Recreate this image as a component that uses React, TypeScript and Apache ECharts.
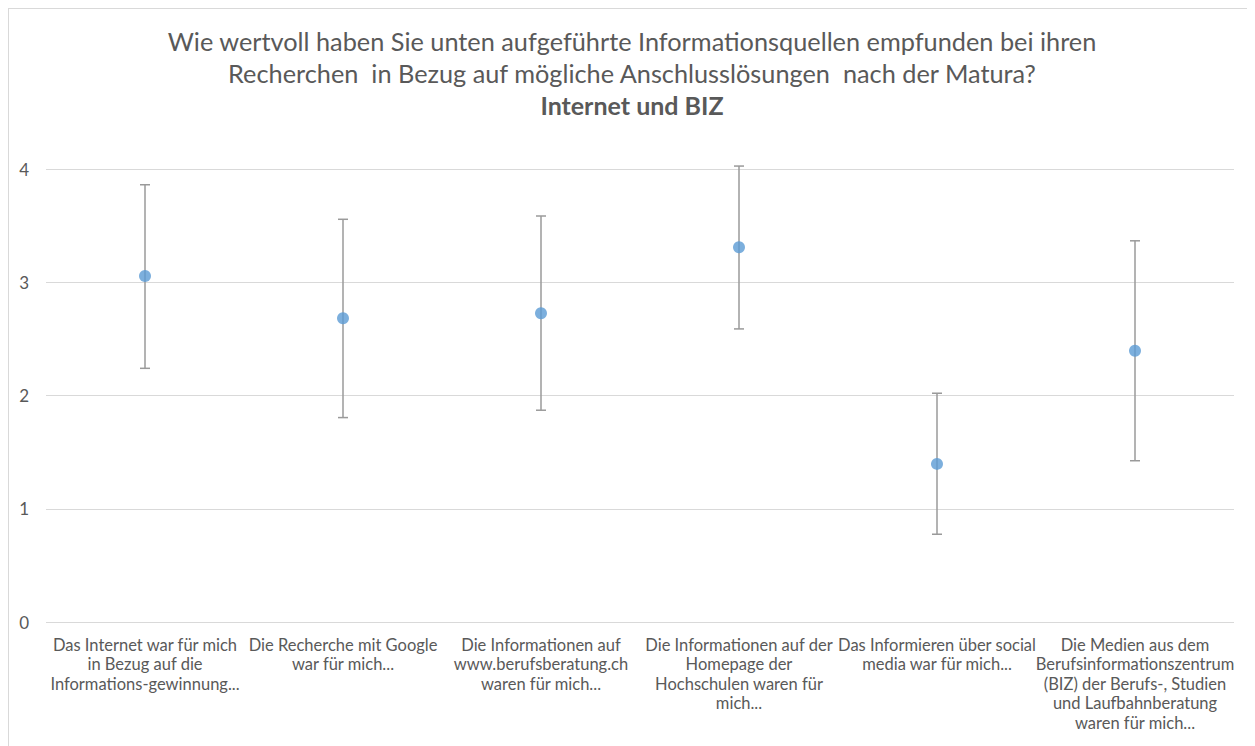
import React, { useEffect, useRef } from "react";
import * as echarts from "echarts";

const titleLines = [
  "Wie wertvoll haben Sie unten aufgeführte Informationsquellen empfunden bei ihren",
  "Recherchen  in Bezug auf mögliche Anschlusslösungen  nach der Matura?",
];
const subTitle = "Internet und BIZ";

const categories = [
  "Das Internet war für mich\nin Bezug auf die\nInformations-gewinnung...",
  "Die Recherche mit Google\nwar für mich...",
  "Die Informationen auf\nwww.berufsberatung.ch\nwaren für mich...",
  "Die Informationen auf der\nHomepage der\nHochschulen waren für\nmich...",
  "Das Informieren über social\nmedia war für mich...",
  "Die Medien aus dem\nBerufsinformationszentrum\n(BIZ) der Berufs-, Studien\nund Laufbahnberatung\nwaren für mich...",
];
const means = [3.055, 2.682, 2.726, 3.309, 1.396, 2.395];
const upper = [3.861, 3.556, 3.585, 4.026, 2.02, 3.366];
const lower = [2.24, 1.805, 1.87, 2.588, 0.775, 1.424];
const yTicks = { min: 0, max: 4, interval: 1 };

const FONT = "Lato, 'Noto Sans', sans-serif";

export default function App() {
  const ref = useRef<HTMLDivElement>(null);
  useEffect(() => {
    if (!ref.current) return;
    const chart = echarts.init(ref.current, undefined, { renderer: "svg" });
    const errData = categories.map((_, i) => [i, lower[i], upper[i]]);
    chart.setOption({
      animation: false,
      backgroundColor: "#ffffff",
      textStyle: { fontFamily: FONT },
      title: {
        text: titleLines.join("\n"),
        subtext: subTitle,
        left: "center",
        top: 11,
        itemGap: 0,
        textStyle: {
          fontFamily: FONT,
          fontSize: 25.3,
          fontWeight: "normal",
          color: "#595959",
          lineHeight: 32,
        },
        subtextStyle: {
          fontFamily: FONT,
          fontSize: 25,
          fontWeight: "bold",
          color: "#595959",
          lineHeight: 32,
        },
      },
      grid: { left: 37, right: 21, top: 160, bottom: 124 },
      xAxis: {
        type: "category",
        data: categories,
        axisLine: { show: false },
        axisTick: { show: false },
        axisLabel: {
          interval: 0,
          margin: 13,
          color: "#595959",
          fontFamily: FONT,
          fontSize: 16.5,
          lineHeight: 19.5,
          align: "center",
        },
      },
      yAxis: {
        type: "value",
        min: yTicks.min,
        max: yTicks.max,
        interval: yTicks.interval,
        axisLine: { show: false },
        axisTick: { show: false },
        splitLine: { lineStyle: { color: "#d9d9d9", width: 1 } },
        axisLabel: { color: "#595959", fontFamily: FONT, fontSize: 17, margin: 17 },
      },
      series: [
        {
          type: "custom",
          z: 1,
          clip: false,
          data: errData,
          renderItem: (params: any, api: any) => {
            const idx = api.value(0);
            const lo = api.coord([idx, api.value(1)]);
            const hi = api.coord([idx, api.value(2)]);
            const hw = 5;
            const style = { stroke: "#9a9a9a", lineWidth: 1.5 };
            return {
              type: "group",
              children: [
                { type: "line", shape: { x1: lo[0], y1: lo[1], x2: hi[0], y2: hi[1] }, style },
                { type: "line", shape: { x1: lo[0] - hw, y1: lo[1], x2: lo[0] + hw, y2: lo[1] }, style },
                { type: "line", shape: { x1: hi[0] - hw, y1: hi[1], x2: hi[0] + hw, y2: hi[1] }, style },
              ],
            };
          },
        },
        {
          type: "scatter",
          z: 2,
          data: means,
          symbol: "circle",
          symbolSize: 12,
          itemStyle: { color: "#5b9bd5" },
        },
      ],
    });
    return () => chart.dispose();
  }, []);
  return (
    <div
      style={{
        width: 1246,
        height: 737,
        borderLeft: "1px solid #d9d9d9",
        borderTop: "1px solid #d9d9d9",
      }}
    >
      <div ref={ref} style={{ width: 1246, height: 737 }} />
    </div>
  );
}
